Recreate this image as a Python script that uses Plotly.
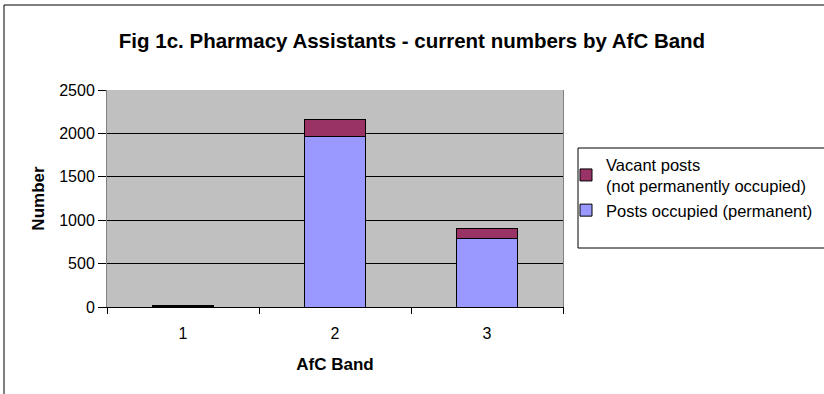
import plotly.graph_objects as go

# AfC bands and staff numbers
bands = ["1", "2", "3"]
posts_occupied = [8, 1970, 790]
vacant_posts = [4, 195, 115]

y_ticks = [0, 500, 1000, 1500, 2000, 2500]

FONT = "Liberation Sans, Arial, sans-serif"

fig = go.Figure()
fig.add_trace(go.Bar(
    x=bands, y=posts_occupied, name="Posts occupied (permanent)",
    marker=dict(color="#9999FF", line=dict(color="black", width=1)),
))
fig.add_trace(go.Bar(
    x=bands, y=vacant_posts, name="Vacant posts<br>(not permanently occupied)",
    marker=dict(color="#993366", line=dict(color="black", width=1)),
))

# plot-area geometry in pixels, used to place the outer frame and legend
L, R, T, B = 107, 261, 90, 87
W, H = 824, 394
pw, ph = W - L - R, H - T - B


def px_x(x):
    return (x - L) / pw


def px_y(y):
    return (H - B - y) / ph


fig.update_layout(
    width=W, height=H,
    margin=dict(l=L, r=R, t=T, b=B, autoexpand=False),
    barmode="stack",
    bargap=0.6,
    paper_bgcolor="white",
    plot_bgcolor="#C0C0C0",
    font=dict(family=FONT, size=16, color="black"),
    title=dict(
        text="<b>Fig 1c. Pharmacy Assistants - current numbers by AfC Band</b>",
        x=0.5, xanchor="center", y=1 - 41 / H, yanchor="middle",
        font=dict(family=FONT, size=20.5, color="black"),
    ),
    legend=dict(
        x=px_x(566), xanchor="left",
        y=px_y(147), yanchor="top",
        bgcolor="rgba(0,0,0,0)", borderwidth=0,
        traceorder="reversed",
        font=dict(family=FONT, size=16.5, color="black"),
        itemwidth=30,
    ),
    xaxis=dict(
        title=dict(text="<b>AfC Band</b>", font=dict(family=FONT, size=17), standoff=16),
        type="category",
        showline=True, linecolor="black", linewidth=1, mirror=False,
        ticks="outside", ticklen=6, tickcolor="black", tickson="boundaries",
        ticklabelstandoff=12,
        showgrid=False,
    ),
    yaxis=dict(
        title=dict(text="<b>Number</b>", font=dict(family=FONT, size=17), standoff=10),
        range=[0, 2500], tickvals=y_ticks,
        showline=True, linecolor="#808080", linewidth=1, mirror=True,
        ticks="outside", ticklen=8, tickcolor="black",
        showgrid=True, gridcolor="black", gridwidth=1,
        zeroline=False,
    ),
    shapes=[
        # outer chart frame
        dict(
            type="rect", xref="paper", yref="paper",
            x0=px_x(4), x1=px_x(840), y0=px_y(420), y1=px_y(5),
            line=dict(color="black", width=1), fillcolor="rgba(0,0,0,0)",
            layer="below",
        ),
        # legend box
        dict(
            type="rect", xref="paper", yref="paper",
            x0=px_x(578), x1=px_x(840), y0=px_y(248), y1=px_y(148),
            line=dict(color="black", width=1), fillcolor="white",
            layer="below",
        ),
    ],
)

fig.write_html("out.html")
